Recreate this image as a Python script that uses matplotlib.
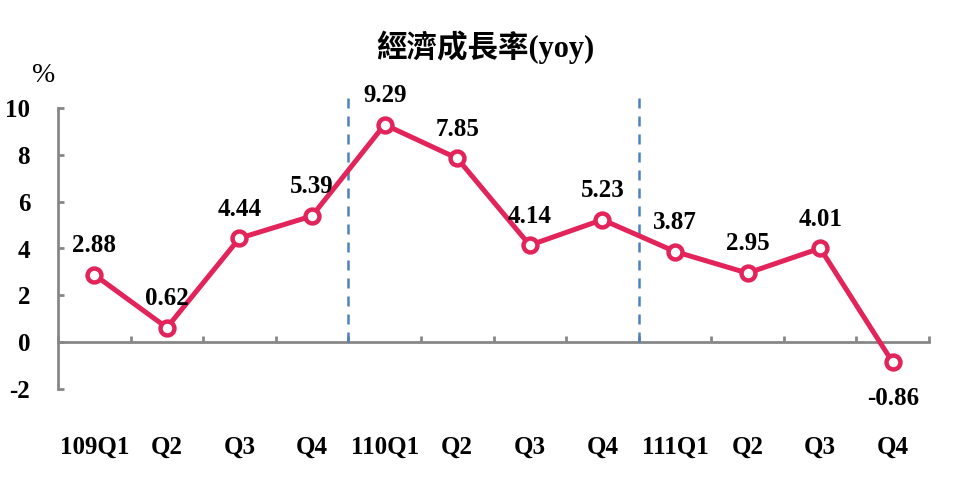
import matplotlib
matplotlib.use("Agg")
import matplotlib.pyplot as plt
import numpy as np

categories = ["109Q1", "Q2", "Q3", "Q4", "110Q1", "Q2", "Q3", "Q4", "111Q1", "Q2", "Q3", "Q4"]
growth = [2.88, 0.62, 4.44, 5.39, 9.29, 7.85, 4.14, 5.23, 3.87, 2.95, 4.01, -0.86]
yticks = [-2, 0, 2, 4, 6, 8, 10]
year_breaks = [3.5, 7.5]
title = "經濟成長率(yoy)"

serif = ["Liberation Serif", "Noto Sans CJK TC", "DejaVu Sans"]
plt.rcParams["font.family"] = serif

fig = plt.figure(figsize=(9.57, 5.01), dpi=100)
ax = fig.add_axes([58 / 957, (501 - 389) / 501, (929 - 58) / 957, (389 - 108) / 501])

x = np.arange(len(categories))
line_c = "#E2245A"
axis_c = "#878787"
fs = 18

ax.plot(x, growth, color=line_c, lw=3.6, marker="o", ms=10, mew=3.2,
        mfc="white", mec=line_c, zorder=5, clip_on=False)

for xb in year_breaks:
    ax.plot([xb, xb], [0, 10.55], color="#4F81BD", lw=1.8, ls=(0, (4, 3.2)),
            zorder=3, clip_on=False)

ax.set_xlim(-0.5, len(categories) - 0.5)
ax.set_ylim(-2, 10)

for s in ["top", "right"]:
    ax.spines[s].set_visible(False)
ax.spines["bottom"].set_position(("data", 0))
for s in ["left", "bottom"]:
    ax.spines[s].set_color(axis_c)
    ax.spines[s].set_linewidth(2.0)

ax.set_yticks(yticks)
ax.set_yticklabels([str(v) for v in yticks], fontsize=fs, fontweight="bold")
ax.tick_params(axis="y", direction="in", length=4, width=2, color=axis_c, pad=20)
ax.set_xticks(np.arange(len(categories) + 1) - 0.5)
ax.set_xticklabels([])
ax.tick_params(axis="x", direction="in", length=4, width=2, color=axis_c)

for i, lab in enumerate(categories):
    ax.annotate(lab, (i, -2), xytext=(0, -42), textcoords="offset points",
                ha="center", va="center", fontsize=fs, fontweight="bold")

for i, v in enumerate(growth):
    dy = 21 if v >= 0 else -26
    ax.annotate(f"{v:.2f}", (i, v), xytext=(0, dy), textcoords="offset points",
                ha="center", va="center", fontsize=fs, fontweight="bold", zorder=6)

fig.text(485 / 957, 1 - 47 / 501, title, ha="center", va="center",
         fontsize=22, fontweight="bold")
fig.text(44 / 957, 1 - 75 / 501, "%", ha="center", va="center", fontsize=20)

fig.savefig("out.png", dpi=100)
